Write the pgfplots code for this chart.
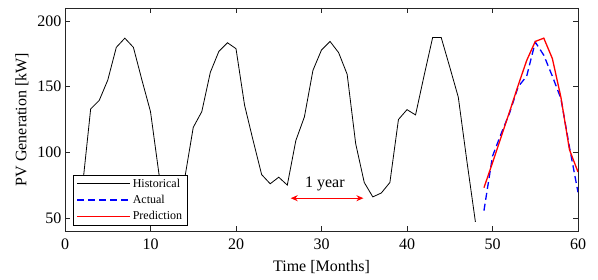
\documentclass[border=0pt]{standalone}
\usepackage{pgfplots}
\pgfplotsset{compat=1.18}
\usepackage{fontspec}
\setmainfont{Liberation Serif}
\usetikzlibrary{arrows.meta}
\begin{document}
\begin{tikzpicture}
\begin{axis}[
  scale only axis, width=513bp, height=223bp,
  xmin=0, xmax=60, ymin=40, ymax=210,
  xtick={0,10,20,30,40,50,60}, ytick={50,100,150,200},
  tick align=inside, major tick length=5bp,
  axis line style={black!85, line width=0.6bp},
  every tick/.style={black!85, line width=0.6bp},
  tick label style={font=\fontsize{16bp}{19bp}\selectfont},
  xticklabel style={yshift=-4bp},
  label style={font=\fontsize{16bp}{19bp}\selectfont},
  xlabel style={yshift=-4bp},
  ylabel style={yshift=2bp},
  /pgf/number format/assume math mode=true,
  xlabel={Time [Months]}, ylabel={PV Generation [kW]},
  legend cell align=left,
  legend style={at={(0.016,0.024)}, anchor=south west, draw=black, line width=0.6bp,
    fill=white, font=\fontsize{12bp}{14bp}\selectfont, row sep=2.5bp,
    inner xsep=3bp, inner ysep=2bp},
  legend image code/.code={\draw[#1] plot coordinates {(0bp,0bp) (53bp,0bp)};},
]
\addplot[black, line width=0.8bp] coordinates {
(1,62) (2,71) (3,133) (4,139.5) (5,155) (6,180) (7,187) (8,180) (9,155) (10,131)
(11,83) (12,62) (13,60) (14,80) (15,119) (16,131) (17,161) (18,177) (19,183.5) (20,179)
(21,136) (22,109) (23,83) (24,76) (25,81) (26,75) (27,109) (28,127) (29,162.5) (30,178)
(31,184.5) (32,176) (33,159.5) (34,106.5) (35,77) (36,66) (37,69) (38,77) (39,125) (40,132.5)
(41,128.5) (42,158.5) (43,187.5) (44,187.5) (45,165) (46,142) (47,93.5) (48,47)
};
\addlegendentry{Historical}
\addplot[blue, line width=1.3bp, dash pattern=on 7bp off 4bp] coordinates {
(49,55.5) (50,97) (51,114) (52,130) (53,150) (54,158) (55,184) (56,174) (57,158) (58,141) (59,104) (60,69.5)
};
\addlegendentry{Actual}
\addplot[red, line width=1.3bp] coordinates {
(49,73) (50,92) (51,111.5) (52,131) (53,151) (54,170) (55,184.5) (56,187) (57,171.5) (58,142) (59,102) (60,85)
};
\addlegendentry{Prediction}
\draw[red, line width=1bp, {Stealth[length=7bp,width=6bp]}-{Stealth[length=7bp,width=6bp]}] (axis cs:26.4,65) -- (axis cs:34.9,65);
\node[font=\fontsize{16bp}{19bp}\selectfont] at (axis cs:30.4,76) {1 year};
\end{axis}
\pgfresetboundingbox
\path (-65bp,-49bp) rectangle (533bp,231bp);
\end{tikzpicture}
\end{document}
